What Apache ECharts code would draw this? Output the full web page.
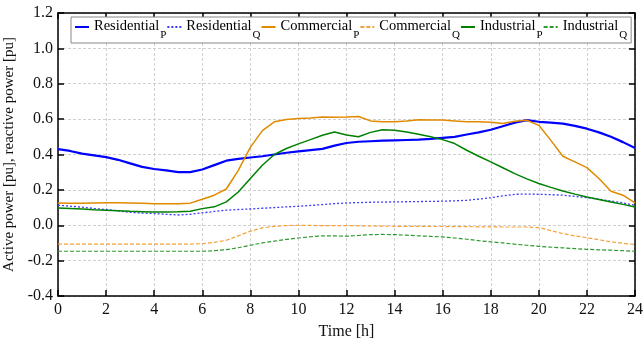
<!DOCTYPE html>
<html>
<head>
<meta charset="utf-8">
<script src="https://cdn.jsdelivr.net/npm/echarts@6/dist/echarts.min.js"></script>
<style>
  html, body { margin: 0; padding: 0; background: #fff; }
  #chart { width: 644px; height: 340px; }
</style>
</head>
<body>
<div id="chart"></div>
<script>
// Daily load profiles, sampled every half hour (0 h .. 24 h)
const hours = [0,0.5,1,1.5,2,2.5,3,3.5,4,4.5,5,5.5,6,6.5,7,7.5,8,8.5,9,9.5,10,10.5,11,11.5,12,
  12.5,13,13.5,14,14.5,15,15.5,16,16.5,17,17.5,18,18.5,19,19.5,20,20.5,21,21.5,22,22.5,23,23.5,24];

const residentialP = [0.43,0.42,0.405,0.395,0.385,0.37,0.35,0.33,0.318,0.31,0.30,0.30,0.315,0.34,0.365,0.375,0.383,0.39,0.40,0.41,0.418,0.425,0.432,0.45,0.465,
  0.472,0.475,0.478,0.48,0.482,0.484,0.488,0.494,0.50,0.513,0.525,0.54,0.56,0.58,0.594,0.585,0.58,0.575,0.562,0.546,0.525,0.50,0.47,0.437];
const residentialQ = [0.113,0.108,0.102,0.095,0.089,0.081,0.073,0.069,0.066,0.062,0.058,0.062,0.07,0.078,0.085,0.089,0.092,0.096,0.10,0.104,0.107,0.112,0.117,0.122,0.126,
  0.128,0.13,0.131,0.132,0.133,0.134,0.135,0.136,0.138,0.141,0.148,0.156,0.166,0.175,0.176,0.175,0.173,0.17,0.163,0.156,0.147,0.137,0.126,0.113];
const commercialP = [0.126,0.125,0.125,0.126,0.127,0.127,0.126,0.124,0.122,0.122,0.122,0.125,0.147,0.17,0.205,0.31,0.44,0.535,0.585,0.598,0.603,0.607,0.612,0.61,0.612,
  0.615,0.59,0.585,0.585,0.59,0.597,0.595,0.595,0.59,0.585,0.585,0.583,0.575,0.588,0.594,0.565,0.48,0.39,0.358,0.326,0.264,0.192,0.17,0.126];
const commercialQ = [-0.107,-0.107,-0.107,-0.107,-0.107,-0.107,-0.107,-0.107,-0.107,-0.107,-0.107,-0.107,-0.104,-0.097,-0.085,-0.06,-0.033,-0.015,-0.006,-0.002,0.0,-0.001,-0.002,-0.002,-0.002,
  -0.003,-0.004,-0.005,-0.006,-0.006,-0.006,-0.007,-0.007,-0.008,-0.008,-0.009,-0.009,-0.01,-0.01,-0.01,-0.013,-0.03,-0.047,-0.06,-0.07,-0.082,-0.094,-0.102,-0.109];
const industrialP = [0.098,0.095,0.092,0.088,0.085,0.082,0.079,0.077,0.075,0.075,0.076,0.079,0.094,0.104,0.132,0.188,0.264,0.339,0.40,0.434,0.46,0.484,0.509,0.527,0.51,
  0.50,0.525,0.54,0.537,0.527,0.514,0.50,0.484,0.462,0.424,0.39,0.358,0.325,0.292,0.262,0.236,0.214,0.194,0.176,0.16,0.146,0.132,0.118,0.103];
const industrialQ = [-0.147,-0.147,-0.147,-0.147,-0.147,-0.147,-0.147,-0.147,-0.147,-0.147,-0.147,-0.147,-0.147,-0.144,-0.138,-0.127,-0.113,-0.10,-0.09,-0.08,-0.072,-0.065,-0.06,-0.06,-0.062,
  -0.058,-0.053,-0.052,-0.053,-0.056,-0.06,-0.063,-0.066,-0.072,-0.079,-0.087,-0.094,-0.10,-0.107,-0.113,-0.119,-0.124,-0.128,-0.132,-0.136,-0.139,-0.141,-0.144,-0.147];

const xTicks = [0,2,4,6,8,10,12,14,16,18,20,22,24];
const yTicks = [-0.4,-0.2,0.0,0.2,0.4,0.6,0.8,1.0,1.2];

const serif = '"Liberation Serif", "Times New Roman", serif';

const seriesDefs = [
  { name: 'Residential_P', data: residentialP, color: '#0000ff', type: 'solid', width: 2.2 },
  { name: 'Residential_Q', data: residentialQ, color: '#3b3bff', type: [2, 2], width: 1.3 },
  { name: 'Commercial_P', data: commercialP, color: '#e08a00', type: 'solid', width: 1.5 },
  { name: 'Commercial_Q', data: commercialQ, color: '#f4a23a', type: [4, 2], width: 1.2 },
  { name: 'Industrial_P', data: industrialP, color: '#008000', type: 'solid', width: 1.5 },
  { name: 'Industrial_Q', data: industrialQ, color: '#2f9a2f', type: [4, 2], width: 1.2 }
];

const chart = echarts.init(document.getElementById('chart'), null, { renderer: 'canvas' });

const gridLine = { show: true, lineStyle: { color: '#d0d0d0', type: [3, 2], width: 1 } };
const axisLine = { show: true, onZero: false, lineStyle: { color: '#000', width: 1.5 } };
const tickIn = { show: true, inside: true, length: 6, lineStyle: { color: '#000', width: 1.5 } };

chart.setOption({
  animation: false,
  backgroundColor: '#fff',
  textStyle: { fontFamily: serif },
  grid: { left: 58, right: 9, top: 13, bottom: 44, containLabel: false, outerBoundsMode: 'none' },
  legend: {
    left: 71, top: 17,
    width: 600,
    padding: [2, 4, 2, 3],
    itemGap: 0,
    itemWidth: 14,
    itemHeight: 8,
    backgroundColor: '#fff',
    borderColor: '#888',
    borderWidth: 1,
    itemStyle: { opacity: 0 },
    data: seriesDefs.map(s => s.name),
    formatter: function (name) {
      const parts = name.split('_');
      return '{m|' + parts[0] + '}{s|' + parts[1] + '}';
    },
    textStyle: {
      fontFamily: serif,
      color: '#000',
      rich: {
        m: { fontSize: 14.5, fontFamily: serif, color: '#000', verticalAlign: 'top', lineHeight: 16 },
        s: { fontSize: 11, fontFamily: serif, color: '#000', verticalAlign: 'top', lineHeight: 11, padding: [11, 0, 0, 1] }
      }
    }
  },
  xAxis: [
    {
      type: 'value', min: 0, max: 24, interval: 2,
      name: 'Time [h]', nameLocation: 'middle', nameGap: 28,
      nameTextStyle: { fontFamily: serif, fontSize: 16, color: '#111' },
      axisLine: axisLine, axisTick: tickIn,
      axisLabel: { fontFamily: serif, fontSize: 16, color: '#111', margin: 6,
        formatter: v => xTicks.includes(v) ? String(v) : '' },
      splitLine: gridLine
    },
    {
      type: 'value', min: 0, max: 24, interval: 2, position: 'top',
      axisLine: axisLine, axisTick: tickIn, axisLabel: { show: false }, splitLine: { show: false }
    }
  ],
  yAxis: [
    {
      type: 'value', min: -0.4, max: 1.2, interval: 0.2,
      name: 'Active power [pu], reactive power [pu]', nameLocation: 'middle', nameGap: 36,
      nameTextStyle: { fontFamily: serif, fontSize: 15, color: '#111' },
      axisLine: axisLine, axisTick: tickIn,
      axisLabel: { fontFamily: serif, fontSize: 16, color: '#111', margin: 5,
        formatter: v => {
          const t = yTicks.find(y => Math.abs(y - v) < 1e-6);
          return t === undefined ? '' : t.toFixed(1);
        } },
      splitLine: gridLine
    },
    {
      type: 'value', min: -0.4, max: 1.2, interval: 0.2, position: 'right',
      axisLine: axisLine, axisTick: tickIn, axisLabel: { show: false }, splitLine: { show: false }
    }
  ],
  series: seriesDefs.map(s => ({
    name: s.name,
    type: 'line',
    xAxisIndex: 0, yAxisIndex: 0,
    symbol: 'none',
    smooth: false,
    data: hours.map((h, i) => [h, s.data[i]]),
    itemStyle: { color: s.color },
    lineStyle: { color: s.color, type: s.type, width: s.width }
  }))
});
</script>
</body>
</html>
